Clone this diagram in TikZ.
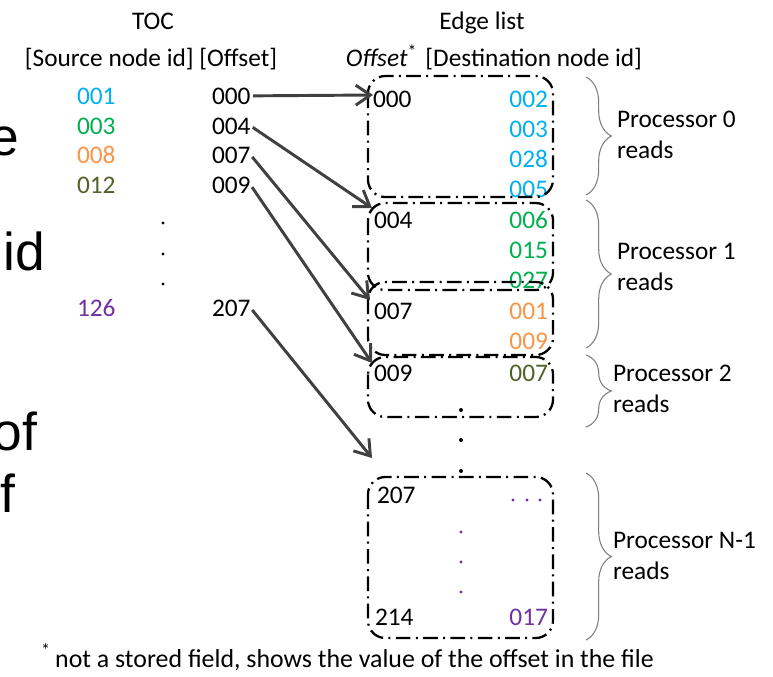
\documentclass[tikz,border=0pt]{standalone}
\usepackage{fontspec}
\setmainfont{Carlito}
\newfontfamily\bigsans{Liberation Sans}
\usetikzlibrary{arrows.meta,decorations.pathreplacing}

\definecolor{cblue}{HTML}{00B0F0}
\definecolor{cgreen}{HTML}{00B050}
\definecolor{corange}{HTML}{F79646}
\definecolor{colive}{HTML}{4F6228}
\definecolor{cpurple}{HTML}{7030A0}
\definecolor{arrowgray}{HTML}{404040}
\definecolor{bracegray}{HTML}{7F7F7F}

\begin{document}
\begin{tikzpicture}[x=0.75pt,y=-0.75pt,
  every node/.style={inner sep=0pt, outer sep=0pt,
    font=\fontsize{19}{22}\selectfont},
  lnum/.style={anchor=base west},
  rnum/.style={anchor=base east},
  frag/.style={anchor=base east, font=\bigsans\fontsize{40}{48}\selectfont},
  ptr/.style={draw=arrowgray, line width=2.2pt, shorten <=2pt,
    -{Straight Barb[length=11pt,width=15pt]}},
  ebox/.style={draw=black, line width=1.7pt, rounded corners=13pt,
    dash pattern=on 11pt off 4pt on 1.5pt off 4pt},
  pbrace/.style={draw=bracegray, line width=0.8pt,
    decorate, decoration={brace, amplitude=19pt, aspect=0.5}},
  dotk/.style={fill=black},
  dotp/.style={fill=cpurple},
]
\useasboundingbox (0,0) rectangle (773,676);
\fill[white] (0,0) rectangle (773,676);
\clip (0,0) rectangle (773,676);

% large text running in from the left edge
\node[frag] (fe)  at (19,155) {e};
\node[frag] (fid) at (45,270) {id};
\node[frag] (fof) at (37,450) {of};
\node[frag] (ff)  at (15,512) {f};

% TOC header
\node[anchor=base] (toc) at (153,29) {TOC};
\node[anchor=base] (tochead) at (151,66) {[Source node id] [Offset]};

% TOC: source node ids
\node[lnum, text=cblue]   (s001) at (77,104) {001};
\node[lnum, text=cgreen]  (s003) at (77,134) {003};
\node[lnum, text=corange] (s008) at (77,163) {008};
\node[lnum, text=colive]  (s012) at (77,193) {012};
\node[lnum, text=cpurple] (s126) at (77,316) {126};

% TOC: offsets
\node[lnum] (o000) at (212,104) {000};
\node[lnum] (o004) at (212,134) {004};
\node[lnum] (o007) at (212,163) {007};
\node[lnum] (o009) at (212,193) {009};
\node[lnum] (o207) at (212,316) {207};

% TOC: vertical ellipsis
\fill[dotk] (163,223) circle (1.6);
\fill[dotk] (163,254) circle (1.6);
\fill[dotk] (163,284) circle (1.6);

% Edge list header
\node[anchor=base] (elist) at (482,29) {Edge list};
\node[anchor=base] (elhead) at (494,66) {\textit{Offset}\textsuperscript{*}\hspace{2pt} [Destination node id]};

% Edge list: offsets
\node[lnum] (e000) at (373,107) {000};
\node[lnum] (e004) at (374,228) {004};
\node[lnum] (e007) at (374,319) {007};
\node[lnum] (e009) at (374,381) {009};
\node[lnum] (e207) at (377,503) {207};
\node[lnum] (e214) at (375,625) {214};

% Edge list: destination node ids
\node[rnum, text=cblue]   (d002) at (548,107) {002};
\node[rnum, text=cblue]   (d003) at (548,137) {003};
\node[rnum, text=cblue]   (d028) at (548,167) {028};
\node[rnum, text=cblue]   (d005) at (548,197) {005};
\node[rnum, text=cgreen]  (d006) at (548,228) {006};
\node[rnum, text=cgreen]  (d015) at (548,258) {015};
\node[rnum, text=cgreen]  (d027) at (548,288) {027};
\node[rnum, text=corange] (d001) at (548,319) {001};
\node[rnum, text=corange] (d009) at (548,349) {009};
\node[rnum, text=colive]  (d007) at (548,381) {007};
\node[rnum, text=cpurple] (d017) at (548,625) {017};

% ellipses inside the edge list
\fill[dotk] (461,410) circle (2);
\fill[dotk] (461,440) circle (2);
\fill[dotk] (461,471) circle (2);
\fill[dotp] (513,500) circle (1.6);
\fill[dotp] (527,500) circle (1.6);
\fill[dotp] (540,500) circle (1.6);
\fill[dotp] (461,532) circle (1.6);
\fill[dotp] (461,562) circle (1.6);
\fill[dotp] (461,592) circle (1.6);

% blocks read by each processor
\draw[ebox] (368,76)  rectangle (553,197);
\draw[ebox] (368,203) rectangle (553,290);
\draw[ebox] (368,282) rectangle (553,355);
\draw[ebox] (368,357) rectangle (553,417);
\draw[ebox] (368,477) rectangle (553,638);

% offset pointers
\coordinate (t0) at (373,95);
\coordinate (t1) at (372,208);
\coordinate (t2) at (370,300);
\coordinate (t3) at (372,363);
\coordinate (t4) at (372,458);
\draw[ptr] (o000.east) -- (t0);
\draw[ptr] (o004.east) -- (t1);
\draw[ptr] (o007.east) -- (t2);
\draw[ptr] (o009.east) -- (t3);
\draw[ptr] (o207.east) -- (t4);

% processor braces
\draw[pbrace] (586,77)  -- (586,195);
\draw[pbrace] (586,200) -- (586,348);
\draw[pbrace] (586,355) -- (586,427);
\draw[pbrace] (586,473) -- (586,640);

\node[lnum] (p0a) at (617,127) {Processor 0};
\node[lnum] (p0b) at (617,158) {reads};
\node[lnum] (p1a) at (617,259) {Processor 1};
\node[lnum] (p1b) at (617,290) {reads};
\node[lnum] (p2a) at (613,381) {Processor 2};
\node[lnum] (p2b) at (613,412) {reads};
\node[lnum] (p3a) at (613,548) {Processor N-1};
\node[lnum] (p3b) at (613,579) {reads};

% footnote
\node[lnum, font=\fontsize{19.4}{23}\selectfont] (foot) at (41,667) {\textsuperscript{*}\hspace{-1pt} not a stored field, shows the value of the offset in the file};
\end{tikzpicture}
\end{document}
